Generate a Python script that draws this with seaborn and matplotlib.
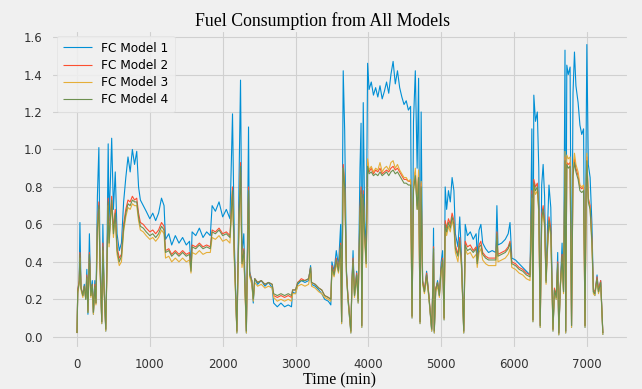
import matplotlib
matplotlib.use("Agg")
import matplotlib.pyplot as plt
import seaborn as sns

# tiempo en minutos y consumo de cada modelo
tiempo = [
    # 0 - 610
    0, 10, 30, 40, 55, 80, 100, 120, 135, 150,
    170, 190, 210, 225, 245, 260, 280, 300, 315, 340,
    355, 370, 395, 410, 428, 440, 460, 476, 500, 525,
    550, 580, 610,
    # 640 - 1195
    640, 670, 700, 730, 760, 790, 820, 845, 870, 910,
    950, 1000, 1040, 1080, 1120, 1160, 1195,
    # 1215 - 2100
    1215, 1260, 1300, 1350, 1400, 1450, 1500, 1545, 1565, 1580,
    1630, 1680, 1730, 1780, 1830, 1855, 1900, 1950, 2000, 2050,
    2100,
    # 2135 - 2370
    2135, 2160, 2195, 2210, 2225, 2245, 2265, 2290, 2325, 2340,
    2355, 2370,
    # 2400 - 3485
    2400, 2420, 2440, 2480, 2530, 2580, 2630, 2680, 2700, 2750,
    2800, 2850, 2900, 2945, 2960, 3000, 3030, 3080, 3130, 3180,
    3207, 3220, 3270, 3320, 3360, 3400, 3450, 3485,
    # 3500 - 3970
    3500, 3530, 3560, 3590, 3620, 3633, 3655, 3675, 3700, 3720,
    3760, 3775, 3790, 3810, 3840, 3860, 3885, 3900, 3910, 3930,
    3950, 3970,
    # 3990 - 4725
    3990, 4010, 4040, 4070, 4100, 4130, 4160, 4190, 4220, 4250,
    4280, 4310, 4340, 4370, 4400, 4430, 4460, 4490, 4520, 4550,
    4580, 4600, 4620, 4645, 4670, 4690, 4710, 4725,
    # 4745 - 5000
    4745, 4770, 4800, 4830, 4870, 4885, 4895, 4905, 4925, 4950,
    4975, 5000,
    # 5020 - 5945
    5020, 5040, 5055, 5075, 5100, 5125, 5150, 5175, 5195, 5230,
    5255, 5280, 5310, 5330, 5360, 5400, 5440, 5480, 5495, 5520,
    5545, 5570, 5610, 5650, 5700, 5750, 5765, 5780, 5830, 5880,
    5920, 5945,
    # 5970 - 6220
    5970, 6020, 6070, 6120, 6170, 6220,
    # 6245 - 6680
    6245, 6260, 6272, 6295, 6320, 6340, 6360, 6380, 6400, 6420,
    6440, 6460, 6480, 6505, 6535, 6555, 6580, 6600, 6615, 6635,
    6660, 6680,
    # 6700 - 7220
    6700, 6710, 6725, 6745, 6770, 6790, 6810, 6830, 6850, 6880,
    6905, 6930, 6955, 6975, 6990, 7000, 7020, 7045, 7070, 7090,
    7110, 7140, 7160, 7190, 7220,
]

fc_modelo1 = [
    0.02, 0.24, 0.30, 0.61, 0.26, 0.22, 0.28, 0.20, 0.36, 0.12,
    0.55, 0.22, 0.30, 0.12, 0.30, 0.18, 0.75, 1.01, 0.45, 0.07,
    0.60, 0.30, 0.03, 0.40, 1.03, 0.62, 0.85, 1.06, 0.68, 0.88,
    0.55, 0.46, 0.50,
    0.72, 0.85, 0.96, 0.88, 1.00, 0.92, 0.99, 0.80, 0.73, 0.70,
    0.67, 0.63, 0.66, 0.62, 0.66, 0.74, 0.70,
    0.52, 0.55, 0.49, 0.54, 0.50, 0.53, 0.49, 0.51, 0.37, 0.56,
    0.54, 0.58, 0.53, 0.56, 0.54, 0.70, 0.67, 0.72, 0.64, 0.68,
    0.63,
    1.19, 0.50, 0.02, 0.40, 0.85, 1.37, 0.45, 0.55, 0.02, 0.50,
    1.12, 0.35,
    0.30, 0.18, 0.31, 0.28, 0.30, 0.27, 0.29, 0.26, 0.18, 0.16,
    0.18, 0.16, 0.17, 0.16, 0.24, 0.23, 0.28, 0.30, 0.29, 0.30,
    0.38, 0.28, 0.27, 0.25, 0.23, 0.20, 0.19, 0.17,
    0.40, 0.35, 0.46, 0.38, 0.60, 0.07, 1.42, 1.10, 0.35, 0.20,
    0.02, 0.30, 0.46, 0.22, 0.35, 0.18, 0.90, 1.14, 0.05, 1.25,
    0.62, 0.45,
    1.46, 1.32, 1.36, 1.29, 1.33, 1.28, 1.34, 1.27, 1.31, 1.36,
    1.30, 1.40, 1.47, 1.35, 1.42, 1.33, 1.28, 1.24, 1.26, 1.21,
    1.23, 0.10, 1.15, 1.42, 0.90, 1.38, 0.07, 1.20,
    0.30, 0.24, 0.35, 0.22, 0.03, 0.27, 0.58, 0.02, 0.25, 0.30,
    0.22, 0.40,
    0.46, 0.09, 0.80, 0.68, 0.78, 0.72, 0.85, 0.78, 0.55, 0.48,
    0.64, 0.41, 0.02, 0.60, 0.54, 0.56, 0.52, 0.55, 0.43, 0.57,
    0.60, 0.50, 0.47, 0.45, 0.46, 0.45, 0.70, 0.49, 0.50, 0.52,
    0.55, 0.61,
    0.42, 0.41, 0.39, 0.37, 0.35, 0.33,
    1.11, 0.08, 1.29, 1.15, 1.20, 0.90, 0.05, 0.81, 0.92, 0.75,
    0.30, 0.58, 0.81, 0.69, 0.03, 0.25, 0.20, 0.45, 0.01, 0.26,
    0.50, 0.24,
    1.53, 0.02, 1.45, 1.40, 1.44, 0.05, 1.30, 1.52, 1.34, 1.25,
    1.13, 1.08, 1.11, 0.05, 1.04, 1.56, 0.92, 0.85, 0.60, 0.24,
    0.22, 0.33, 0.24, 0.30, 0.01,
]

fc_modelo2 = [
    0.02, 0.25, 0.30, 0.45, 0.27, 0.22, 0.27, 0.21, 0.33, 0.14,
    0.45, 0.22, 0.28, 0.13, 0.28, 0.18, 0.60, 0.72, 0.40, 0.08,
    0.50, 0.28, 0.04, 0.36, 0.74, 0.52, 0.66, 0.75, 0.57, 0.68,
    0.48, 0.42, 0.44,
    0.60, 0.68, 0.73, 0.72, 0.75, 0.73, 0.74, 0.66, 0.61, 0.60,
    0.58, 0.56, 0.57, 0.55, 0.57, 0.61, 0.59,
    0.46, 0.47, 0.44, 0.46, 0.44, 0.46, 0.44, 0.45, 0.36, 0.49,
    0.48, 0.50, 0.48, 0.49, 0.48, 0.57, 0.56, 0.58, 0.55, 0.56,
    0.54,
    0.80, 0.44, 0.03, 0.36, 0.65, 0.93, 0.40, 0.47, 0.03, 0.44,
    0.80, 0.34,
    0.30, 0.20, 0.31, 0.29, 0.30, 0.28, 0.29, 0.28, 0.22, 0.21,
    0.22, 0.21, 0.22, 0.21, 0.25, 0.25, 0.29, 0.31, 0.30, 0.31,
    0.37, 0.29, 0.28, 0.26, 0.25, 0.22, 0.21, 0.20,
    0.38, 0.34, 0.42, 0.36, 0.50, 0.08, 0.92, 0.82, 0.34, 0.22,
    0.03, 0.30, 0.42, 0.23, 0.34, 0.20, 0.68, 0.80, 0.06, 0.78,
    0.55, 0.40,
    0.93, 0.88, 0.90, 0.87, 0.89, 0.88, 0.90, 0.87, 0.88, 0.89,
    0.88, 0.90, 0.91, 0.89, 0.90, 0.88, 0.86, 0.84, 0.84, 0.83,
    0.83, 0.11, 0.80, 0.88, 0.70, 0.87, 0.08, 0.82,
    0.30, 0.25, 0.34, 0.23, 0.04, 0.27, 0.48, 0.03, 0.26, 0.29,
    0.23, 0.37,
    0.42, 0.10, 0.62, 0.58, 0.63, 0.60, 0.66, 0.62, 0.49, 0.44,
    0.53, 0.39, 0.03, 0.51, 0.48, 0.49, 0.46, 0.48, 0.40, 0.49,
    0.51, 0.45, 0.43, 0.42, 0.42, 0.42, 0.56, 0.44, 0.45, 0.46,
    0.48, 0.51,
    0.40, 0.39, 0.37, 0.36, 0.34, 0.33,
    0.78, 0.09, 0.84, 0.80, 0.82, 0.70, 0.06, 0.65, 0.70, 0.62,
    0.30, 0.50, 0.64, 0.58, 0.04, 0.26, 0.22, 0.40, 0.02, 0.27,
    0.44, 0.25,
    0.96, 0.03, 0.93, 0.92, 0.93, 0.06, 0.88, 0.95, 0.90, 0.86,
    0.80, 0.79, 0.80, 0.06, 0.78, 0.96, 0.74, 0.70, 0.52, 0.25,
    0.24, 0.32, 0.25, 0.30, 0.02,
]

fc_modelo3 = [
    0.02, 0.23, 0.28, 0.42, 0.25, 0.21, 0.26, 0.20, 0.31, 0.13,
    0.42, 0.21, 0.27, 0.12, 0.26, 0.17, 0.56, 0.68, 0.37, 0.07,
    0.46, 0.26, 0.03, 0.33, 0.70, 0.48, 0.62, 0.71, 0.53, 0.64,
    0.44, 0.38, 0.40,
    0.56, 0.64, 0.69, 0.68, 0.71, 0.70, 0.70, 0.62, 0.57, 0.56,
    0.54, 0.52, 0.53, 0.51, 0.53, 0.57, 0.55,
    0.42, 0.43, 0.40, 0.42, 0.40, 0.42, 0.40, 0.41, 0.34, 0.45,
    0.44, 0.46, 0.44, 0.45, 0.45, 0.53, 0.52, 0.54, 0.51, 0.52,
    0.50,
    0.76, 0.40, 0.02, 0.33, 0.61, 0.88, 0.37, 0.44, 0.02, 0.40,
    0.76, 0.32,
    0.28, 0.19, 0.29, 0.27, 0.28, 0.26, 0.27, 0.26, 0.21, 0.19,
    0.20, 0.19, 0.20, 0.19, 0.23, 0.23, 0.27, 0.28, 0.27, 0.28,
    0.35, 0.27, 0.26, 0.24, 0.23, 0.21, 0.20, 0.19,
    0.35, 0.32, 0.39, 0.34, 0.47, 0.07, 0.90, 0.78, 0.32, 0.20,
    0.02, 0.28, 0.39, 0.21, 0.32, 0.18, 0.64, 0.76, 0.05, 0.74,
    0.51, 0.37,
    0.95, 0.89, 0.91, 0.88, 0.90, 0.89, 0.93, 0.88, 0.90, 0.91,
    0.89, 0.93, 0.94, 0.90, 0.92, 0.89, 0.87, 0.85, 0.85, 0.83,
    0.84, 0.10, 0.80, 0.90, 0.68, 0.89, 0.07, 0.83,
    0.28, 0.23, 0.31, 0.21, 0.03, 0.25, 0.45, 0.02, 0.24, 0.27,
    0.21, 0.34,
    0.39, 0.09, 0.58, 0.54, 0.59, 0.56, 0.62, 0.58, 0.45, 0.40,
    0.49, 0.36, 0.02, 0.47, 0.44, 0.45, 0.42, 0.44, 0.37, 0.45,
    0.47, 0.41, 0.39, 0.38, 0.38, 0.38, 0.52, 0.40, 0.41, 0.42,
    0.44, 0.47,
    0.37, 0.36, 0.34, 0.33, 0.31, 0.30,
    0.74, 0.08, 0.80, 0.76, 0.78, 0.66, 0.05, 0.61, 0.66, 0.58,
    0.28, 0.46, 0.60, 0.54, 0.03, 0.24, 0.20, 0.37, 0.01, 0.25,
    0.40, 0.23,
    0.99, 0.02, 0.97, 0.95, 0.96, 0.05, 0.90, 0.98, 0.92, 0.88,
    0.81, 0.80, 0.81, 0.05, 0.79, 0.98, 0.73, 0.68, 0.48, 0.23,
    0.22, 0.30, 0.23, 0.28, 0.01,
]

fc_modelo4 = [
    0.02, 0.24, 0.29, 0.44, 0.26, 0.22, 0.27, 0.20, 0.32, 0.13,
    0.44, 0.22, 0.28, 0.13, 0.27, 0.18, 0.58, 0.70, 0.39, 0.08,
    0.48, 0.27, 0.04, 0.35, 0.72, 0.50, 0.64, 0.73, 0.55, 0.66,
    0.46, 0.40, 0.43,
    0.58, 0.66, 0.71, 0.70, 0.73, 0.72, 0.72, 0.64, 0.59, 0.58,
    0.56, 0.54, 0.55, 0.53, 0.55, 0.59, 0.57,
    0.45, 0.46, 0.43, 0.45, 0.43, 0.45, 0.43, 0.44, 0.35, 0.48,
    0.47, 0.49, 0.47, 0.48, 0.47, 0.56, 0.55, 0.57, 0.54, 0.55,
    0.53,
    0.78, 0.43, 0.03, 0.35, 0.63, 0.91, 0.39, 0.46, 0.03, 0.43,
    0.78, 0.33,
    0.30, 0.20, 0.31, 0.29, 0.30, 0.28, 0.29, 0.28, 0.23, 0.22,
    0.23, 0.22, 0.23, 0.22, 0.25, 0.25, 0.29, 0.30, 0.30, 0.31,
    0.37, 0.29, 0.28, 0.26, 0.25, 0.22, 0.21, 0.20,
    0.37, 0.33, 0.41, 0.35, 0.49, 0.08, 0.90, 0.80, 0.33, 0.21,
    0.03, 0.29, 0.41, 0.22, 0.33, 0.19, 0.66, 0.78, 0.06, 0.76,
    0.53, 0.39,
    0.91, 0.87, 0.88, 0.86, 0.87, 0.86, 0.88, 0.86, 0.87, 0.88,
    0.86, 0.88, 0.89, 0.87, 0.88, 0.86, 0.84, 0.82, 0.82, 0.81,
    0.81, 0.11, 0.78, 0.86, 0.68, 0.85, 0.08, 0.80,
    0.29, 0.24, 0.33, 0.22, 0.04, 0.26, 0.47, 0.03, 0.25, 0.29,
    0.22, 0.36,
    0.41, 0.10, 0.60, 0.56, 0.61, 0.58, 0.64, 0.60, 0.47, 0.43,
    0.51, 0.38, 0.03, 0.49, 0.46, 0.47, 0.45, 0.47, 0.39, 0.48,
    0.49, 0.44, 0.42, 0.41, 0.41, 0.41, 0.55, 0.43, 0.44, 0.45,
    0.47, 0.50,
    0.39, 0.38, 0.36, 0.35, 0.33, 0.32,
    0.76, 0.09, 0.82, 0.78, 0.80, 0.68, 0.06, 0.63, 0.68, 0.60,
    0.29, 0.48, 0.62, 0.56, 0.04, 0.25, 0.21, 0.39, 0.02, 0.26,
    0.43, 0.24,
    0.94, 0.03, 0.92, 0.90, 0.91, 0.06, 0.86, 0.93, 0.88, 0.84,
    0.78, 0.77, 0.78, 0.06, 0.76, 0.94, 0.72, 0.68, 0.50, 0.24,
    0.23, 0.31, 0.24, 0.29, 0.02,
]

etiquetas = ["FC Model 1", "FC Model 2", "FC Model 3", "FC Model 4"]
colores = ["#008fd5", "#fc4f30", "#e5ae38", "#6d904f"]

plt.style.use("fivethirtyeight")

fig = plt.figure(figsize=(6.42, 3.89), dpi=100, facecolor="#f0f0f0")
ax = fig.add_axes([0.079, 0.102, 0.901, 0.822])
ax.set_facecolor("#f0f0f0")

series = [fc_modelo1, fc_modelo2, fc_modelo3, fc_modelo4]
for valores, nombre, color in zip(series, etiquetas, colores):
    sns.lineplot(x=tiempo, y=valores, ax=ax, label=nombre, color=color,
                 linewidth=0.8, sort=False, estimator=None)

ax.set_xlim(-361, 7581)
ax.set_ylim(-0.067, 1.64)
ax.set_xticks(range(0, 7001, 1000))
ax.set_yticks([0.0, 0.2, 0.4, 0.6, 0.8, 1.0, 1.2, 1.4, 1.6])
ax.set_yticklabels([f"{v:.1f}" for v in [0.0, 0.2, 0.4, 0.6, 0.8, 1.0, 1.2, 1.4, 1.6]])
ax.tick_params(axis="both", labelsize=8.5, colors="#333333", length=0, pad=6)
ax.grid(True, color="#d0d0d0", linewidth=0.8)

# titulo centrado en la figura, como en el original
fig.text(0.503, 0.947, "Fuel Consumption from All Models", family="Liberation Serif",
         fontsize=12.8, ha="center", va="center")
ax.set_xlabel("Time (min)", family="Liberation Serif", fontsize=11.5, labelpad=1)
ax.set_ylabel("")

leg = ax.legend(loc="upper left", fontsize=8.7, frameon=True, framealpha=0.85,
                facecolor="#f0f0f0", edgecolor="#e0e0e0", handlelength=2.4,
                borderpad=0.5, labelspacing=0.35)
for linea in leg.get_lines():
    linea.set_linewidth(0.8)

fig.savefig("out.png", dpi=100, facecolor="#f0f0f0")
